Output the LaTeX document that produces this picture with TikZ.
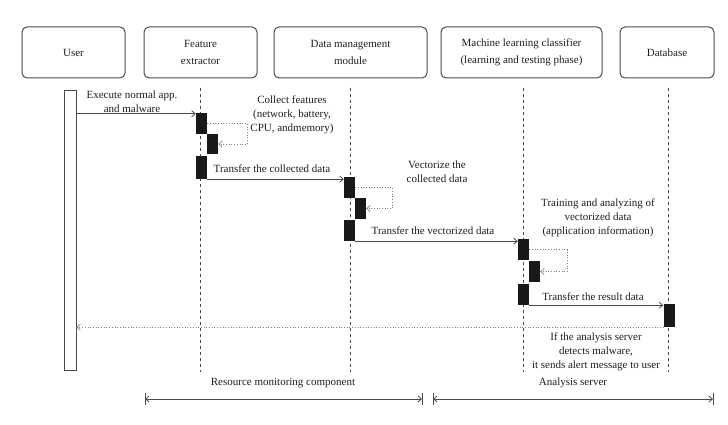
\documentclass[tikz,border=0pt]{standalone}
\usepackage{fontspec}
\setmainfont{Liberation Serif}
\usetikzlibrary{arrows.meta,calc}
\definecolor{linegray}{HTML}{4A4A4A}
\definecolor{textgray}{HTML}{1E1E1E}
\begin{document}
\begin{tikzpicture}[x=1pt,y=-1pt,
  hdr/.style={draw=linegray, rounded corners=5pt, line width=1pt, minimum width=#1, minimum height=51pt, align=center, font=\fontsize{11}{17}\selectfont, text=textgray, inner sep=0pt},
  actbar/.style={fill=black!90, draw=none, minimum width=11pt, minimum height=#1, inner sep=0pt},
  lifeline/.style={draw=linegray, line width=0.8pt, dash pattern=on 3pt off 3pt},
  msg/.style={draw=linegray, line width=0.8pt, -{Straight Barb[length=3.5pt,width=6pt]}},
  selfloop/.style={draw=gray, line width=0.7pt, dotted, -{Straight Barb[length=3.5pt,width=6pt]}},
  retmsg/.style={draw=gray, line width=0.7pt, dotted, -{Straight Barb[length=3.5pt,width=6pt]}},
  lbl/.style={align=center, font=\fontsize{11}{14}\selectfont, text=textgray, inner sep=0pt},
  span/.style={draw=linegray, line width=0.8pt, {Straight Barb[length=3.5pt,width=6pt]}-{Straight Barb[length=3.5pt,width=6pt]}},
  tick/.style={draw=linegray, line width=0.8pt}
]
\useasboundingbox (0,0) rectangle (728,425);

% headers
\node[hdr=103pt] (user) at (73.5,52.5) {User};
\node[hdr=113pt] (fe) at (200.5,52.5) {Feature\\extractor};
\node[hdr=153pt] (dm) at (350.5,52.5) {Data management\\module};
\node[hdr=161pt] (ml) at (521.5,52.5) {Machine learning classifier\\(learning and testing phase)};
\node[hdr=94pt] (dbh) at (667,52.5) {Database};

% lifelines
\coordinate (fetop) at (200,88); \coordinate (febot) at (200,372);
\coordinate (dmtop) at (350,88); \coordinate (dmbot) at (350,372);
\coordinate (mltop) at (523,88); \coordinate (mlbot) at (523,372);
\coordinate (dbtop) at (668,88); \coordinate (dbbot) at (668,372);
\draw[lifeline] (fetop) -- (febot);
\draw[lifeline] (dmtop) -- (dmbot);
\draw[lifeline] (mltop) -- (mlbot);
\draw[lifeline] (dbtop) -- (dbbot);

% user bar
\node[draw=linegray, fill=white, line width=0.8pt, minimum width=12pt, minimum height=280pt, inner sep=0pt] (ub) at (70,230) {};

% activation bars
\node[actbar=21pt] (fe1) at (201.5,123.5) {};
\node[actbar=20pt] (fe2) at (212.5,144) {};
\node[actbar=23pt] (fe3) at (201.5,167.5) {};
\node[actbar=21pt] (dm1) at (349.5,187.5) {};
\node[actbar=21pt] (dm2) at (360.5,208.5) {};
\node[actbar=21pt] (dm3) at (349.5,230.5) {};
\node[actbar=21pt] (ml1) at (523.5,249.5) {};
\node[actbar=21pt] (ml2) at (534.5,271.5) {};
\node[actbar=21pt] (ml3) at (523.5,294.5) {};
\node[actbar=23pt] (db) at (669,315.5) {};

% messages
\draw[msg] ([yshift=-1pt]fe1.north west -| ub.east) -- ([yshift=-1pt]fe1.north west);
\draw[selfloop] (fe1.east) -- ++(40,0) |- (fe2.east);
\draw[msg] (fe3.south east) -- (fe3.south east -| dm1.west);
\draw[selfloop] (dm1.east) -- ++(37,0) |- (dm2.east);
\draw[msg] (dm3.south east) -- (dm3.south east -| ml1.west);
\draw[selfloop] (ml1.east) -- ++(38,0) |- (ml2.east);
\draw[msg] (ml3.south east) -- (ml3.south east -| db.west);
\draw[retmsg] (db.south west) -- (db.south west -| ub.east);

% labels
\node[lbl] (t1) at (132,102) {Execute normal app.\\and malware};
\node[lbl] (t2) at (292,114.5) {Collect features\\(network, battery,\\CPU, andmemory)};
\node[lbl] (t3) at (272,169) {Transfer the collected data};
\node[lbl] (t4) at (437,172) {Vectorize the\\collected data};
\node[lbl] (t5) at (433,231) {Transfer the vectorized data};
\node[lbl] (t6) at (598,218) {Training and analyzing of\\vectorized data\\(application information)};
\node[lbl] (t7) at (593,297) {Transfer the result data};
\node[lbl] (t8) at (596,352) {If the analysis server\\detects malware,\\it sends alert message to user};

% bottom spans
\node[lbl] (rmc) at (283,383) {Resource monitoring component};
\node[lbl] (asv) at (573,383) {Analysis server};
\coordinate (rs) at (145,399); \coordinate (re) at (422,399);
\coordinate (as) at (433,399); \coordinate (ae) at (713,399);
\draw[span] (rs) -- (re);
\draw[span] (as) -- (ae);
\draw[tick] ([yshift=6pt]rs) -- ([yshift=-6pt]rs);
\draw[tick] ([yshift=6pt]re) -- ([yshift=-6pt]re);
\draw[tick] ([yshift=6pt]as) -- ([yshift=-6pt]as);
\draw[tick] ([yshift=6pt]ae) -- ([yshift=-6pt]ae);
\end{tikzpicture}
\end{document}
